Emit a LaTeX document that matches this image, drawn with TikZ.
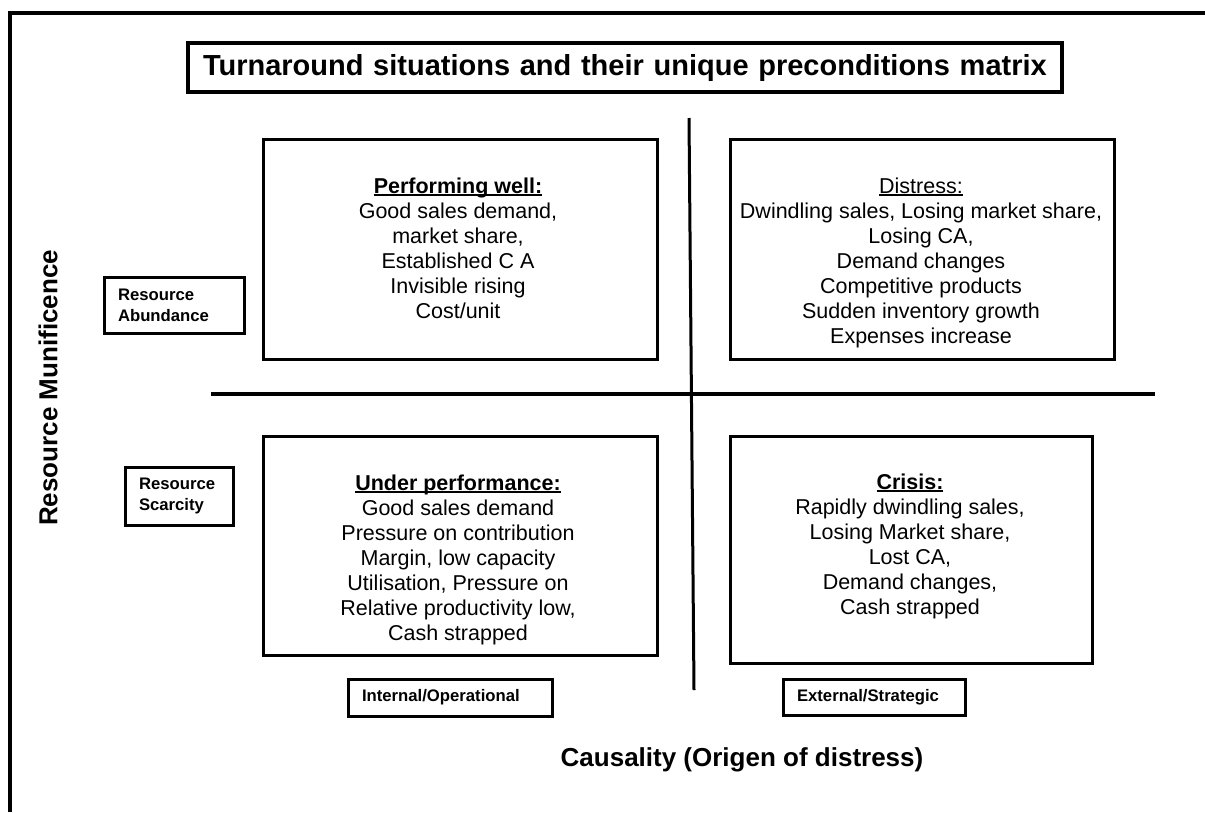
\documentclass[tikz,border=0pt]{standalone}
\usepackage{fontspec}
\setmainfont{Liberation Sans}
\newcommand\hul[1]{\setbox0\hbox{#1}\rlap{\rule[-2.6pt]{\wd0}{1.6pt}}\box0}
\tikzset{
  quad/.style={draw, line width=3pt, inner sep=0pt},
  body/.style={align=center, inner sep=0pt, anchor=north, font=\fontsize{21.5}{25}\selectfont},
  tag/.style={draw, line width=3pt, inner xsep=14pt, inner ysep=0pt, align=left, font=\bfseries\fontsize{16.7}{20.7}\selectfont},
  axis/.style={inner sep=0pt, font=\bfseries\fontsize{26}{30}\selectfont},
  sep/.style={line width=3pt}
}
\begin{document}
\begin{tikzpicture}[x=1pt,y=-1pt]
\useasboundingbox (0,0) rectangle (1205,812);
% outer frame (only left and top edges visible)
\coordinate (fb) at (10,812);
\coordinate (ftl) at (10,13);
\coordinate (fr) at (1205,13);
\draw[line width=3.5pt] (fb) -- (ftl) -- (fr);
% title
\node[draw, line width=3.5pt, text width=844pt, inner xsep=15pt, inner ysep=0pt, minimum height=49pt, align=left,
      font=\bfseries\fontsize{29}{31}\selectfont] (title) at (625,67.5) {Turnaround situations and their unique preconditions matrix};
% separating lines
\coordinate (vt) at (689,118);
\coordinate (vb) at (694,690);
\coordinate (hl) at (211,394);
\coordinate (hr) at (1155,394);
\draw[sep] (vt) -- (vb);
\draw[line width=4pt] (hl) -- (hr);
% quadrant boxes
\node[quad, minimum width=394pt, minimum height=220pt] (tl) at (460,249) {};
\node[quad, minimum width=384pt, minimum height=220pt] (tr) at (922,249) {};
\node[quad, minimum width=394pt, minimum height=219pt] (bl) at (460,545.5) {};
\node[quad, minimum width=362pt, minimum height=227pt] (br) at (911,549.5) {};
% quadrant texts
\node[body] (tltext) at (458,177.4) {\hul{\textbf{Performing well:}}\\Good sales demand,\\market share,\\Established C A\\Invisible rising\\Cost/unit};
\node[body] (trtext) at (921,177.4) {\hul{Distress:}\\Dwindling sales, Losing market share,\\Losing CA,\\Demand changes\\Competitive products\\Sudden inventory growth\\Expenses increase};
\node[body] (bltext) at (458,474.4) {\hul{\textbf{Under performance:}}\\Good sales demand\\Pressure on contribution\\Margin, low capacity\\Utilisation, Pressure on\\Relative productivity low,\\Cash strapped};
\node[body] (brtext) at (910,473.4) {\hul{\textbf{Crisis:}}\\Rapidly dwindling sales,\\Losing Market share,\\Lost CA,\\Demand changes,\\Cash strapped};
% side tags
\node[tag, text width=112pt, minimum height=56pt] (abund) at (174,305) {Resource\\Abundance};
\node[tag, text width=80pt, minimum height=58pt] (scarce) at (179,496) {Resource\\Scarcity};
\node[tag, text width=176pt, minimum height=37pt] (internal) at (450,697.5) {Internal/Operational};
\node[tag, text width=154pt, minimum height=36pt] (external) at (874,697) {External/Strategic};
% axis titles
\node[axis, rotate=90] (ylab) at (48,388) {Resource Munificence};
\node[axis, anchor=base] (xlab) at (742,766) {Causality (Origen of distress)};
\end{tikzpicture}
\end{document}
